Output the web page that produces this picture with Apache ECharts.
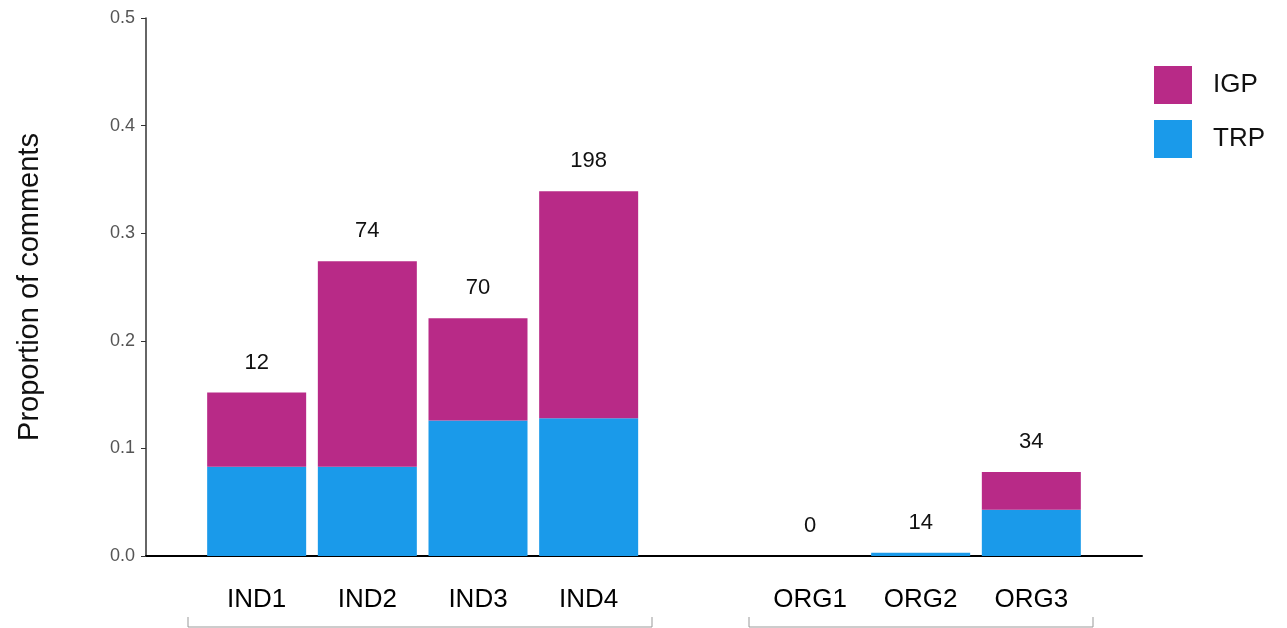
<!DOCTYPE html>
<html>
<head>
<meta charset="utf-8">
<script src="https://cdn.jsdelivr.net/npm/echarts@6/dist/echarts.min.js"></script>
<style>
  html, body { margin: 0; padding: 0; background: #fff; }
  #main { width: 1287px; height: 628px; }
</style>
</head>
<body>
<div id="main"></div>
<script>
// categories (blank slots pad the ends and split the two groups)
var categories = ['', 'IND1', 'IND2', 'IND3', 'IND4', '', 'ORG1', 'ORG2', 'ORG3', ''];
// proportion of comments per part
var trp = ['-', 0.083, 0.083, 0.126, 0.128, '-', 0, 0.003, 0.043, '-'];
var igp = ['-', 0.069, 0.191, 0.095, 0.211, '-', 0, 0, 0.035, '-'];
// number of comments shown above each bar
var counts = ['', 12, 74, 70, 198, '', 0, 14, 34, ''];
var yTicks = [0, 0.1, 0.2, 0.3, 0.4, 0.5];

var myChart = echarts.init(document.getElementById('main'));

myChart.setOption({
    animation: false,
    textStyle: { fontFamily: 'Liberation Sans, Arial, sans-serif' },
    grid: { left: 146, right: 145, top: 18, bottom: 72 },
    legend: {
        orient: 'vertical',
        left: 1154,
        top: 66,
        padding: 0,
        itemWidth: 38,
        itemHeight: 38,
        itemGap: 16,
        icon: 'rect',
        textStyle: { fontSize: 26, color: '#111', padding: [0, 0, 0, 16] },
        data: ['IGP', 'TRP']
    },
    xAxis: {
        type: 'category',
        data: categories,
        boundaryGap: false,
        axisLine: { lineStyle: { color: '#000', width: 2 } },
        axisTick: { show: false },
        axisLabel: { fontSize: 26, color: '#000', margin: 31, interval: 0 },
        splitLine: { show: false }
    },
    yAxis: {
        type: 'value',
        min: yTicks[0],
        max: yTicks[yTicks.length - 1],
        interval: 0.1,
        name: 'Proportion of comments',
        nameLocation: 'middle',
        nameGap: 102,
        nameTextStyle: { fontSize: 29, color: '#111' },
        axisLine: { show: true, lineStyle: { color: '#333', width: 1.5 } },
        axisTick: { show: true, length: 5, lineStyle: { color: '#333' } },
        axisLabel: {
            fontSize: 18,
            color: '#555',
            margin: 11,
            formatter: function (v) { return v.toFixed(1); }
        },
        splitLine: { show: false }
    },
    series: [
        {
            name: 'TRP',
            type: 'bar',
            stack: 'total',
            data: trp,
            barWidth: 99,
            itemStyle: { color: '#1A9AEA' }
        },
        {
            name: 'IGP',
            type: 'bar',
            stack: 'total',
            data: igp,
            barWidth: 99,
            itemStyle: { color: '#B82A87' },
            label: {
                show: true,
                position: 'top',
                distance: 19,
                fontSize: 22,
                color: '#111',
                formatter: function (p) { return counts[p.dataIndex]; }
            }
        }
    ],
    graphic: [
        {
            type: 'polyline',
            shape: { points: [[188, 617], [188, 627], [652, 627], [652, 617]] },
            style: { stroke: '#999', lineWidth: 1, fill: null }
        },
        {
            type: 'polyline',
            shape: { points: [[749, 617], [749, 627], [1093, 627], [1093, 617]] },
            style: { stroke: '#999', lineWidth: 1, fill: null }
        }
    ]
});
</script>
</body>
</html>
